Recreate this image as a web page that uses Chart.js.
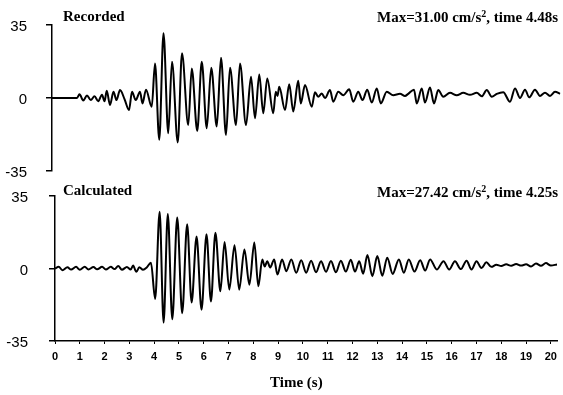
<!DOCTYPE html>
<html>
<head>
<meta charset="utf-8">
<script src="https://cdn.jsdelivr.net/npm/chart.js@4.4.0/dist/chart.umd.min.js"></script>
<style>
  body { margin: 0; background: #fff; }
  #wrap { position: relative; width: 563px; height: 395px; overflow: hidden; }
  canvas { position: absolute; left: 0; }
  .lbl { position: absolute; font-family: "Liberation Serif", "Times New Roman", serif; font-weight: bold;
         font-size: 15px; line-height: 15px; color: #000; white-space: nowrap; }
  .lbl sup { font-size: 10px; line-height: 0; vertical-align: 5px; }
</style>
</head>
<body>
<div id="wrap">
  <canvas id="rec_chart" width="563" height="180" style="top:0"></canvas>
  <canvas id="calc_chart" width="563" height="215" style="top:180px"></canvas>

  <div class="lbl" style="left:63px;top:9px">Recorded</div>
  <div class="lbl" style="right:5px;top:10px">Max=31.00 cm/s<sup>2</sup>, time 4.48s</div>
  <div class="lbl" style="left:63px;top:183px">Calculated</div>
  <div class="lbl" style="right:5px;top:185px">Max=27.42 cm/s<sup>2</sup>, time 4.25s</div>
  <div class="lbl" style="left:270px;top:375px">Time (s)</div>
</div>

<script>
// recorded accelerogram, time (s) / acceleration (cm/s2)
var rec_time = [0, 1.0, 1.1, 1.25, 1.4, 1.55, 1.7, 1.85, 2.0, 2.1, 2.19, 2.32, 2.46, 2.58, 2.72, 2.9,
  3.08, 3.2, 3.35, 3.52, 3.62, 3.76, 3.99, 4.12, 4.29, 4.46, 4.65, 4.80, 5.03, 5.20, 5.45, 5.59,
  5.81, 5.99, 6.19, 6.37, 6.59, 6.76, 6.96, 7.12, 7.36, 7.52, 7.76, 7.96, 8.12, 8.29, 8.45, 8.61,
  8.85, 8.95, 9.02, 9.09, 9.32, 9.49, 9.65, 9.85, 9.95, 10.12, 10.39, 10.52, 10.65, 10.79, 10.92,
  11.12, 11.25, 11.45, 11.65, 11.89, 12.05, 12.25, 12.42, 12.61, 12.79, 12.99, 13.15, 13.39, 13.65,
  13.92, 14.12, 14.25, 14.48, 14.59, 14.79, 14.92, 15.12, 15.28, 15.45, 15.65, 15.92, 16.19, 16.45,
  16.72, 16.99, 17.19, 17.39, 17.59, 17.79, 18.05, 18.32, 18.52, 18.72, 18.92, 19.09, 19.32, 19.52,
  19.72, 19.92, 20.12, 20.32];
var rec_acc = [0, 0, 1.8, -1.2, 1.2, -1.0, 0.8, -1.5, 1.6, -1.6, 3.5, -3.3, 3.0, -1.0, 3.8, -0.5,
  -5.8, 3.0, -1.0, 3.0, -2.6, 4.0, -4.2, 16.6, -20.0, 31.0, -16.9, 17.4, -21.3, 21.4, -13.0, 14.2,
  -15.8, 17.4, -14.5, 14.5, -13.7, 19.3, -17.7, 14.5, -13.0, 16.6, -13.0, 10.2, -9.7, 11.3, -7.3, 9.4,
  -7.3, 3.0, 1.0, 5.4, -5.8, 6.6, -6.5, 8.3, -2.6, 6.2, -4.2, 2.8, 0.6, 2.2, 0,
  3.8, -1.8, 3.0, 1.3, 4.2, -1.8, 3.0, -1.0, 4.0, -2.2, 4.6, -2.6, 3.0, 1.3,
  2.0, 1.0, 2.0, 4.0, -2.6, 4.6, -2.2, 5.0, -2.6, 3.8, 0.6, 2.5, 1.3, 2.5,
  1.5, 2.5, 0.8, 3.8, 0.6, 2.0, 2.8, -1.8, 4.6, 0, 4.0, 0.3, 4.0, 1.0,
  2.5, 1.0, 3.0, 2.0];

// calculated accelerogram
var calc_time = [0, 0.15, 0.3, 0.5, 0.65, 0.85, 1.0, 1.2, 1.35, 1.55, 1.7, 1.9, 2.05, 2.25, 2.4, 2.55,
  2.7, 2.9, 3.05, 3.15, 3.28, 3.4, 3.55, 3.7, 3.87, 4.04, 4.22, 4.38, 4.55, 4.73, 4.93, 5.13, 5.33,
  5.51, 5.71, 5.91, 6.11, 6.29, 6.47, 6.67, 6.84, 7.03, 7.24, 7.43, 7.64, 7.84, 8.04, 8.2, 8.36,
  8.46, 8.56, 8.68, 8.84, 8.97, 9.16, 9.33, 9.53, 9.73, 9.93, 10.13, 10.33, 10.53, 10.73, 10.93,
  11.13, 11.33, 11.53, 11.73, 11.93, 12.1, 12.27, 12.43, 12.6, 12.8, 13.0, 13.2, 13.4, 13.62, 13.87,
  14.07, 14.27, 14.5, 14.73, 14.93, 15.13, 15.4, 15.67, 15.9, 16.13, 16.37, 16.6, 16.8, 17.0, 17.2,
  17.4, 17.6, 17.8, 18.0, 18.2, 18.4, 18.6, 18.8, 19.0, 19.2, 19.4, 19.6, 19.8, 20.0, 20.25];
var calc_acc = [0, 0.8, -0.8, 0.6, -0.5, 0.8, -0.6, 0.8, -0.5, 0.7, -0.4, 0.8, -0.5, 0.8, -0.3, 1.2,
  -0.6, 0.7, -0.5, 1.4, -1.6, 0.6, -0.6, 0.5, 2.8, -14.7, 27.4, -26.1, 26.3, -24.5, 24.6, -21.6, 21.4,
  -16.4, 15.4, -19.9, 16.5, -15.9, 17.3, -11.0, 12.8, -10.2, 11.2, -10.2, 9.2, -7.8, 12.5, -8.6, 4.4,
  1.0, 3.5, 0.5, 4.4, -2.9, 4.4, -1.3, 4.4, -2.1, 4.0, -2.0, 3.8, -1.8, 3.5, -1.6,
  3.6, -1.8, 3.8, -1.5, 4.2, -1.5, 3.5, -2.5, 6.5, -3.7, 6.0, -3.5, 5.2, -2.6, 4.4,
  -2.0, 4.4, -1.5, 4.0, -1.0, 4.4, -0.5, 3.5, -0.5, 3.5, -0.3, 3.8, -0.5, 3.5, 0.2,
  3.0, 0.8, 1.8, 1.2, 2.0, 1.3, 2.2, 1.4, 2.0, 1.0, 2.4, 1.3, 2.6, 1.4, 2.0];

var y_ticks = [-35, 0, 35];
var x_ticks = [0, 1, 2, 3, 4, 5, 6, 7, 8, 9, 10, 11, 12, 13, 14, 15, 16, 17, 18, 19, 20];

function to_points(times, vals) {
  var pts = [];
  for (let i = 0; i < times.length; i++)
    pts.push({x: times[i], y: vals[i]});
  return pts;
}

function y_axis(width, pad) {
  return {
    min: -35, max: 35,
    afterBuildTicks: function(s) { s.ticks = y_ticks.map(function(v) { return {value: v}; }); },
    ticks: { color: '#000', padding: pad, labelOffset: 2,
             font: {family: '"Liberation Sans", Arial', size: 15} },
    grid: { display: true, drawOnChartArea: false, color: '#000', tickLength: 6, lineWidth: 1.5 },
    border: { display: true, color: '#000', width: 1.5 },
    afterFit: function(s) {
      s.width = width;
      // label padding would otherwise shrink the plot area
      s.paddingTop = 0;
      s.paddingBottom = 0;
    }
  };
}

function make_panel(id, times, vals, opts) {
  var ctx = document.getElementById(id).getContext('2d');
  return new Chart(ctx, {
    type: 'line',
    data: {
      datasets: [{
        data: to_points(times, vals),
        borderColor: '#000',
        borderWidth: 2,
        pointRadius: 0,
        cubicInterpolationMode: 'monotone',
        fill: false
      }]
    },
    options: {
      responsive: false,
      devicePixelRatio: 1,
      animation: false,
      layout: { padding: opts.padding },
      plugins: { legend: {display: false}, tooltip: {enabled: false} },
      scales: {
        x: opts.x,
        y: y_axis(opts.left, opts.label_pad)
      }
    }
  });
}

make_panel('rec_chart', rec_time, rec_acc, {
  padding: {top: 25, bottom: 9, left: 0, right: 1},
  left: 52, label_pad: 19,
  x: { type: 'linear', display: false, min: 0, max: 20.4 }
});

make_panel('calc_chart', calc_time, calc_acc, {
  padding: {top: 16, bottom: 0, left: 0, right: 2},
  left: 55, label_pad: 21,
  x: {
    type: 'linear', min: 0, max: 20.25,
    afterBuildTicks: function(s) { s.ticks = x_ticks.map(function(v) { return {value: v}; }); },
    ticks: { color: '#000', padding: 6, maxRotation: 0, autoSkip: false, includeBounds: false,
             font: {family: '"Liberation Sans", Arial', size: 11, weight: 'bold'} },
    grid: { display: true, drawOnChartArea: false, color: '#000', tickLength: 3 },
    border: { display: true, color: '#000', width: 1.5 },
    afterFit: function(s) { s.height = 54; }
  }
});
</script>
</body>
</html>
